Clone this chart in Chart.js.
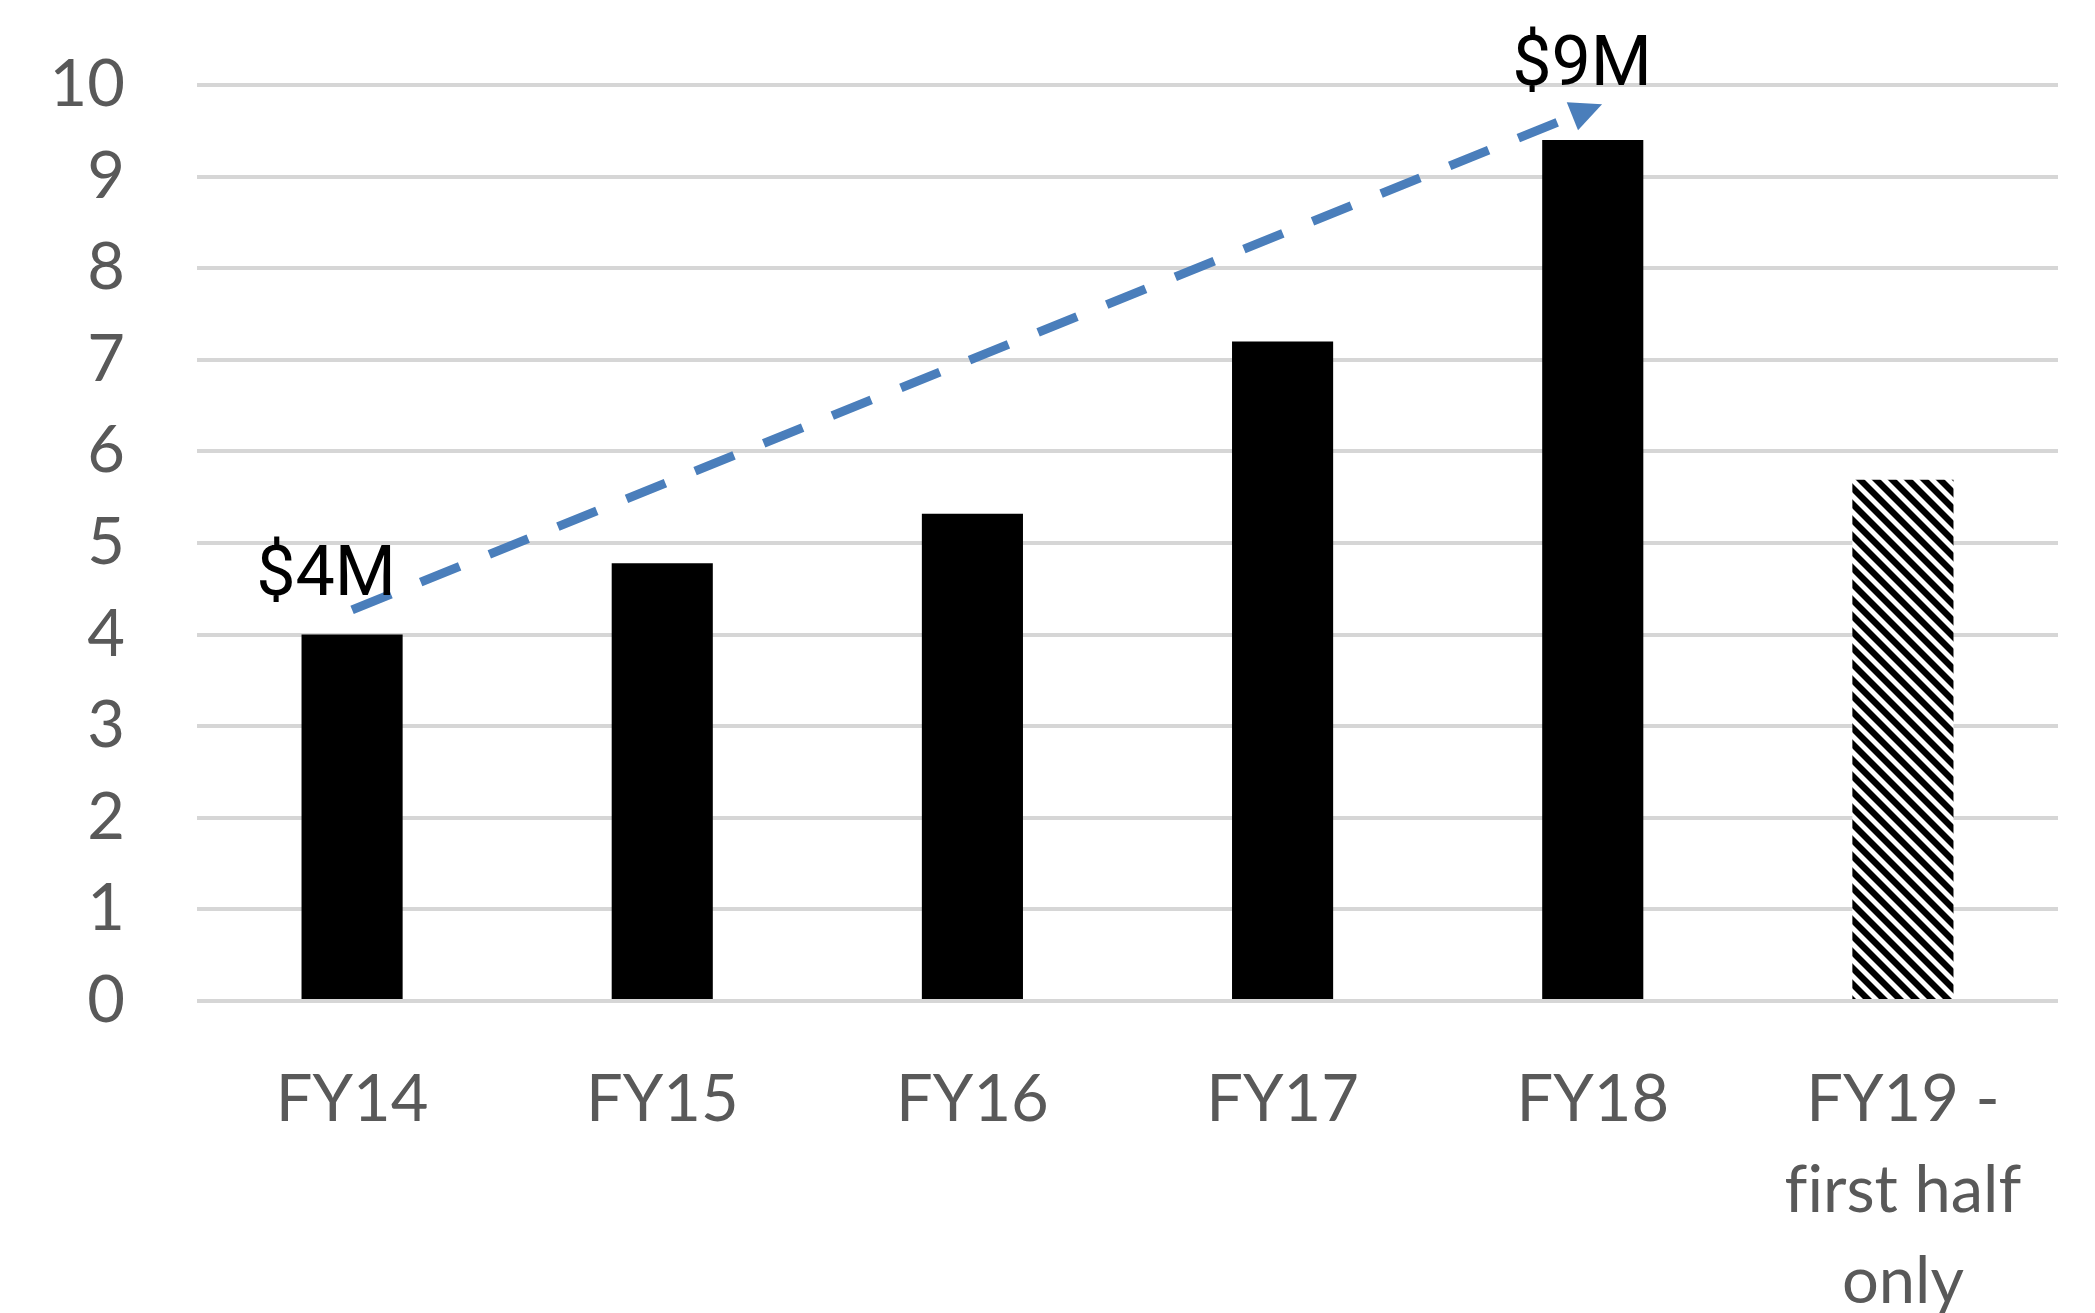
<!DOCTYPE html>
<html>
<head>
<meta charset="utf-8">
<script src="https://cdn.jsdelivr.net/npm/chart.js@4.4.1/dist/chart.umd.min.js"></script>
<style>
    html, body { margin: 0; padding: 0; background: #ffffff; }
    #wrap { width: 2095px; height: 1313px; }
</style>
</head>
<body>
<div id="wrap"><canvas id="revenue"></canvas></div>
<script>
// Revenue per fiscal year, in $M
const categories = ['FY14', 'FY15', 'FY16', 'FY17', 'FY18', ['FY19 -', 'f\u200Cirst half', 'only']];
const revenue = [4.0, 4.78, 5.32, 7.2, 9.4, 5.69];
const partialYear = [false, false, false, false, false, true];
const yTicks = [0, 1, 2, 3, 4, 5, 6, 7, 8, 9, 10];

// Trend arrow: [category index, value] for start and tip
const trendStart = [0, 4.27];
const trendEnd = [4.03, 9.79];
const trendLabels = ['$4M', '$9M'];

// diagonal stripes for the partial year
function makeHatch() {
    const tile = document.createElement('canvas');
    tile.width = 16;
    tile.height = 16;
    const t = tile.getContext('2d');
    t.fillStyle = '#ffffff';
    t.fillRect(0, 0, 16, 16);
    t.fillStyle = '#000000';
    for (let k = -16; k <= 16; k += 16) {
        t.beginPath();
        t.moveTo(k, 0);
        t.lineTo(k + 9, 0);
        t.lineTo(k + 25, 16);
        t.lineTo(k + 16, 16);
        t.closePath();
        t.fill();
    }
    return t.createPattern(tile, 'repeat');
}

const trendArrow = {
    id: 'trendArrow',
    afterDatasetsDraw(chart) {
        const ctx = chart.ctx;
        const xs = chart.scales.x;
        const ys = chart.scales.y;
        const x0 = xs.getPixelForValue(trendStart[0]);
        const y0 = ys.getPixelForValue(trendStart[1]);
        const x1 = xs.getPixelForValue(trendEnd[0]);
        const y1 = ys.getPixelForValue(trendEnd[1]);
        const ang = Math.atan2(y1 - y0, x1 - x0);
        const headLen = 32;
        const headHalf = 15;
        const bx = x1 - Math.cos(ang) * headLen;
        const by = y1 - Math.sin(ang) * headLen;

        ctx.save();
        ctx.strokeStyle = '#4a7ebb';
        ctx.fillStyle = '#4a7ebb';
        ctx.lineWidth = 9;
        ctx.setLineDash([42, 32]);
        ctx.beginPath();
        ctx.moveTo(x0, y0);
        ctx.lineTo(bx, by);
        ctx.stroke();
        ctx.setLineDash([]);

        ctx.beginPath();
        ctx.moveTo(x1, y1);
        ctx.lineTo(bx - Math.sin(ang) * headHalf, by + Math.cos(ang) * headHalf);
        ctx.lineTo(bx + Math.sin(ang) * headHalf, by - Math.cos(ang) * headHalf);
        ctx.closePath();
        ctx.fill();

        ctx.fillStyle = '#000000';
        ctx.font = '70px Roboto';
        ctx.textAlign = 'center';
        ctx.textBaseline = 'alphabetic';
        ctx.fillText(trendLabels[0], x0 - 26, y0 - 15);
        ctx.fillText(trendLabels[1], x1 - 20, y1 - 19);
        ctx.restore();
    }
};

const hatch = makeHatch();
const ctxRevenue = document.getElementById('revenue').getContext('2d');

const revenueConfig = {
    type: 'bar',
    data: {
        labels: categories,
        datasets: [{
            label: 'Revenue',
            data: revenue,
            backgroundColor: partialYear.map(p => p ? hatch : '#000000'),
            borderWidth: 0,
            barPercentage: 0.326,
            categoryPercentage: 1.0
        }]
    },
    options: {
        responsive: true,
        maintainAspectRatio: false,
        animation: false,
        layout: {
            padding: { top: 85, right: 37, left: 0, bottom: 0 }
        },
        plugins: {
            legend: { display: false },
            tooltip: { enabled: false }
        },
        scales: {
            x: {
                grid: { display: false },
                border: { display: false },
                ticks: {
                    color: '#595959',
                    font: { family: 'Lato', size: 65, lineHeight: 1.4 },
                    padding: 46,
                    maxRotation: 0,
                    autoSkip: false
                },
                afterFit(scale) { scale.height = 312; }
            },
            y: {
                min: 0,
                max: 10,
                afterBuildTicks(scale) {
                    scale.ticks = yTicks.map(v => ({ value: v }));
                },
                grid: {
                    color: '#d6d6d6',
                    lineWidth: 4,
                    drawTicks: false
                },
                border: { display: false },
                ticks: {
                    color: '#595959',
                    font: { family: 'Lato', size: 65 },
                    padding: 72
                },
                afterFit(scale) {
                    scale.width = 197;
                    // the wide label gap should not push the plot down
                    scale.paddingTop = 0;
                    scale.paddingBottom = 0;
                }
            }
        }
    },
    plugins: [trendArrow]
};
var revenueChart = new Chart(ctxRevenue, revenueConfig);
</script>
</body>
</html>
